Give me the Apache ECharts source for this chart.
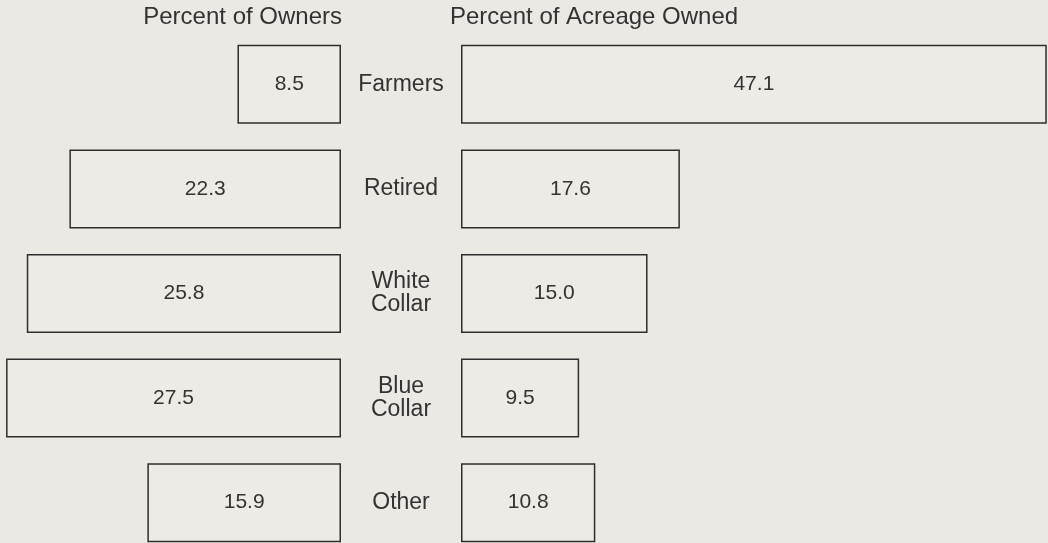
<!DOCTYPE html>
<html>
<head>
<meta charset="utf-8">
<script src="https://cdn.jsdelivr.net/npm/echarts@6/dist/echarts.min.js"></script>
<style>
html, body { margin: 0; padding: 0; background: #ece8e4; overflow: hidden; }
/* the bottom row runs off the page in the original, so the canvas is taller than the window */
#chart { width: 1048px; height: 560px; }
</style>
</head>
<body>
<div id="chart"></div>
<script>
// occupation groups, top to bottom
var categories = ['Farmers', 'Retired', 'White\nCollar', 'Blue\nCollar', 'Other'];
// percent of owners (left side)
var ownersPct = [8.5, 22.3, 25.8, 27.5, 15.9];
// percent of acreage owned (right side)
var acreagePct = [47.1, 17.6, 15.0, 9.5, 10.8];

var FONT = "'Liberation Sans', Arial, Helvetica, sans-serif";
var INK = '#333333';
var BG = '#ece8e4';

var chart = echarts.init(document.getElementById('chart'));

function barStyle() {
	return {
		color: '#eeeae6',
		borderColor: '#2e2e2e',
		borderWidth: 1.5
	};
}
function numLabel() {
	return {
		show: true,
		position: 'inside',
		color: INK,
		fontFamily: FONT,
		fontSize: 21,
		formatter: function (p) { return p.value.toFixed(1); }
	};
}

var option = {
	backgroundColor: BG,
	animation: false,
	title: [{
		text: 'Percent of Owners',
		right: 706,
		top: 5,
		padding: 0,
		textStyle: { color: INK, fontFamily: FONT, fontSize: 24, fontWeight: 'normal' }
	}, {
		text: 'Percent of Acreage Owned',
		left: 450,
		top: 5,
		padding: 0,
		textStyle: { color: INK, fontFamily: FONT, fontSize: 24, fontWeight: 'normal' }
	}],
	grid: [
		{ left: 0, width: 341, top: 32, height: 523 },
		{ left: 461, width: 587, top: 32, height: 523 }
	],
	xAxis: [{
		gridIndex: 0, type: 'value', min: 0, max: 28, inverse: true, show: false
	}, {
		gridIndex: 1, type: 'value', min: 0, max: 47.2, show: false
	}],
	yAxis: [{
		gridIndex: 0,
		type: 'category',
		data: categories,
		inverse: true,
		position: 'right',
		axisLine: { show: false },
		axisTick: { show: false },
		axisLabel: {
			margin: 60,
			align: 'center',
			color: INK,
			fontFamily: FONT,
			fontSize: 23,
			lineHeight: 23
		}
	}, {
		gridIndex: 1,
		type: 'category',
		data: categories,
		inverse: true,
		show: false
	}],
	series: [{
		name: 'Percent of Owners',
		type: 'bar',
		xAxisIndex: 0,
		yAxisIndex: 0,
		barWidth: 79,
		data: ownersPct,
		itemStyle: barStyle(),
		label: numLabel()
	}, {
		name: 'Percent of Acreage Owned',
		type: 'bar',
		xAxisIndex: 1,
		yAxisIndex: 1,
		barWidth: 79,
		data: acreagePct,
		itemStyle: barStyle(),
		label: numLabel()
	}]
};
chart.setOption(option);
</script>
</body>
</html>
